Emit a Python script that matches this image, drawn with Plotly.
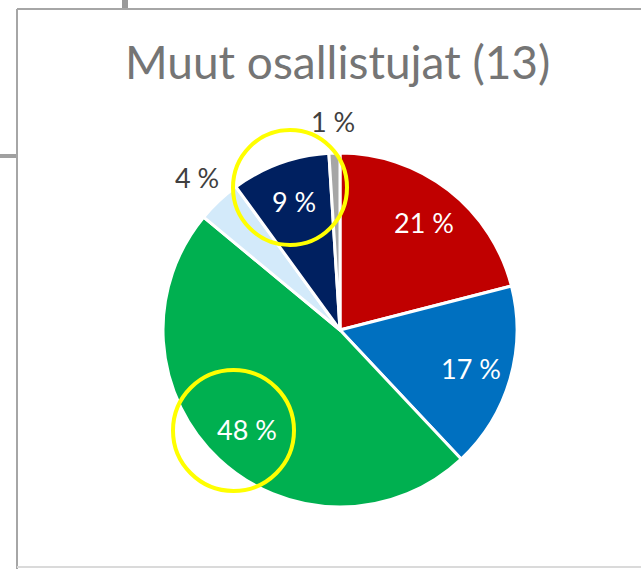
import math
import plotly.graph_objects as go

# Data
categories = ["A", "B", "C", "D", "E", "F"]
values = [21, 17, 48, 4, 9, 1]
value_labels = ["21 %", "17 %", "48 %", "4 %", "9 %", "1 %"]
title_text = "Muut osallistujat (13)"

colors = ["#C00000", "#0070C0", "#00B050", "#D3EAFA", "#002060", "#A6A6A6"]

W, H = 641, 569
CX, CY, R = 340, 330, 177  # pixel geometry of pie

fig = go.Figure()
fig.add_trace(go.Pie(
    labels=categories, values=values, sort=False, direction="clockwise",
    rotation=0, textinfo="none", hoverinfo="label+value",
    marker=dict(colors=colors, line=dict(color="white", width=3)),
    domain=dict(x=[(CX - R) / W, (CX + R) / W], y=[1 - (CY + R) / H, 1 - (CY - R) / H]),
    showlegend=False,
))

# Data labels positioned from cumulative values
total = sum(values)
cum = 0
annotations = []
for v, lab in zip(values, value_labels):
    mid = (cum + v / 2) / total * 2 * math.pi
    cum += v
    inside = v / total >= 0.05
    rf = 0.77 if inside else 1.18
    px = CX + rf * R * math.sin(mid)
    py = CY - rf * R * math.cos(mid)
    annotations.append(dict(
        x=px / W, y=1 - py / H, xref="paper", yref="paper", text=lab, showarrow=False,
        font=dict(family="Lato", size=27, color="white" if inside else "#404040"),
        xanchor="center", yanchor="middle"))

annotations.append(dict(
    x=338 / W, y=1 - 62 / H, xref="paper", yref="paper", text=title_text, showarrow=False,
    font=dict(family="Lato", size=46, color="#757575"), xanchor="center", yanchor="middle"))

shapes = [
    # chart frame
    dict(type="line", xref="paper", yref="paper", x0=17 / W, x1=1.01, y0=1 - 9 / H, y1=1 - 9 / H,
         line=dict(color="#A6A6A6", width=2)),
    dict(type="line", xref="paper", yref="paper", x0=17 / W, x1=17 / W, y0=1 - 9 / H, y1=-0.01,
         line=dict(color="#A6A6A6", width=2)),
    dict(type="line", xref="paper", yref="paper", x0=17 / W, x1=1.01, y0=1 - 567 / H, y1=1 - 567 / H,
         line=dict(color="#DADADA", width=2)),
    # background artifacts outside frame
    dict(type="rect", xref="paper", yref="paper", x0=122 / W, x1=128 / W, y0=1 - 8 / H, y1=1.01,
         fillcolor="#9A9A9A", line=dict(width=0)),
    dict(type="rect", xref="paper", yref="paper", x0=-0.01, x1=16 / W, y0=1 - 158 / H, y1=1 - 154 / H,
         fillcolor="#A0A0A0", line=dict(width=0)),
    # yellow highlight circles
    dict(type="circle", xref="paper", yref="paper", x0=233 / W, x1=347 / W, y0=1 - 245 / H, y1=1 - 130 / H,
         line=dict(color="#FFFF00", width=4)),
    dict(type="circle", xref="paper", yref="paper", x0=173 / W, x1=294 / W, y0=1 - 491 / H, y1=1 - 370 / H,
         line=dict(color="#FFFF00", width=4)),
]

fig.update_layout(
    width=W, height=H, margin=dict(l=0, r=0, t=0, b=0),
    paper_bgcolor="white", plot_bgcolor="white",
    annotations=annotations, shapes=shapes,
)

fig.write_html("out.html", config={"displayModeBar": False},
               post_script="document.body.style.margin='0px';")
